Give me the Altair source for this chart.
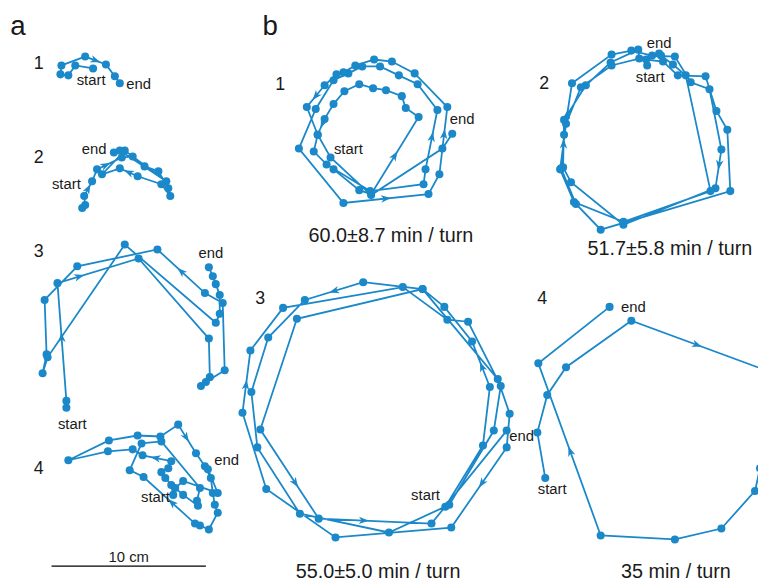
import math
import altair as alt
import pandas as pd

FONT = "Liberation Sans"
BLUE = "#1a88c9"

# ---------- trajectories (positions, in figure pixels) ----------
a1_x = [94, 76, 69, 61, 62, 86, 107, 116, 121]
a1_y = [66, 63, 73, 72, 63, 54, 62, 74, 81]

a2_x = [83, 86, 85, 93, 98, 123, 134, 146, 160, 170, 172, 163, 139, 121, 103, 126, 168, 121, 115]
a2_y = [207, 204, 195, 180, 168, 156, 155, 165, 170, 187, 195, 183, 175, 167, 173, 149, 180, 149, 151]

a3_x = [67, 67, 58, 140, 211, 212, 203, 208, 227, 225, 207, 159, 78, 45, 47, 43, 48, 126, 218, 222, 222, 218, 215, 211]
a3_y = [409, 402, 283, 258, 339, 378, 387, 383, 371, 303, 293, 249, 266, 300, 355, 374, 358, 244, 323, 314, 295, 284, 276, 267]

a4_x = [175, 173, 167, 163, 170, 173, 144, 134, 109, 69, 110, 139, 162, 180, 198, 207, 213, 215, 217, 220, 211, 202, 197,
        145, 131, 143, 163, 202, 199, 200, 185, 177, 185, 220, 210]
a4_y = [497, 487, 480, 474, 470, 463, 457, 451, 453, 462, 442, 437, 438, 426, 455, 468, 480, 495, 507, 515, 532, 528, 526,
        479, 472, 445, 443, 490, 503, 508, 497, 490, 483, 495, 471]

b1_x = [337, 363, 375, 423, 410, 406, 390, 377, 363, 348, 337, 328, 321, 317, 330, 374, 428, 430, 442, 422, 403, 384, 366,
        352, 337, 319, 302, 347, 433, 444, 452, 419, 396, 378, 359, 347, 340, 328, 310, 321, 334, 375, 447, 457]
b1_y = [168, 189, 193, 115, 106, 94, 88, 86, 82, 89, 102, 117, 133, 150, 163, 190, 183, 168, 108, 82, 73, 64, 64,
        71, 78, 107, 147, 202, 193, 173, 105, 71, 59, 57, 63, 70, 72, 83, 105, 133, 156, 194, 147, 132]

b2_x = [654, 653, 670, 685, 713, 724, 735, 738, 607, 582, 567, 570, 578, 618, 638, 659, 682, 698, 717, 729, 723, 630, 577,
        569, 570, 592, 617, 645, 646, 668, 680, 693, 718, 630, 580, 566, 572, 587, 618, 666]
b2_y = [63, 57, 59, 73, 74, 109, 128, 190, 229, 203, 167, 133, 81, 52, 48, 53, 54, 80, 87, 148, 187, 224, 181,
        166, 118, 83, 60, 47, 56, 53, 62, 73, 190, 221, 201, 168, 122, 85, 63, 51]

b3_x = [450, 488, 495, 477, 449, 427, 367, 308, 271, 254, 260, 303, 393, 454,
        499, 506, 473, 452, 407, 286, 253, 245, 269, 339, 456, 512,
        515, 503, 427, 300, 263, 322, 436, 512]
b3_y = [509, 447, 388, 342, 307, 289, 282, 300, 338, 393, 449, 516, 535, 507,
        432, 387, 322, 320, 287, 308, 351, 414, 491, 540, 530, 449,
        415, 380, 289, 319, 431, 521, 526, 432]

b4_x = [551, 543, 553, 572, 638, 771, 768, 763, 729, 682, 607, 544, 616]
b4_y = [480, 434, 396, 368, 321, 370, 470, 493, 531, 542, 538, 364, 307]

# arrowheads: (segment index, fraction along segment, reversed?)
a1_arrows = [(5, 0.5, 0)]
a2_arrows = [(2, 0.5, 0), (4, 0.35, 0), (12, 0.5, 0)]
a3_arrows = [(1, 0.54, 0), (2, 0.27, 0), (10, 0.5, 0)]
a4_arrows = [(13, 0.45, 0), (5, 0.55, 0), (22, 0.45, 0)]
b1_arrows = [(2, 0.5, 0), (11, 0.3, 0), (27, 0.5, 0), (17, 0.55, 0), (29, 0.6, 0), (37, 0.5, 0)]
b2_arrows = [(19, 0.4, 0), (11, 0.4, 0), (23, 0.5, 0)]
b3_arrows = [(6, 0.5, 0), (30, 0.6, 0), (31, 0.4, 0), (2, 0.45, 0), (24, 0.55, 1), (20, 0.55, 1)]
b4_arrows = [(4, 0.5, 0), (10, 0.49, 0)]

# ---------- texts ----------
label_text = ["start", "end", "end", "start", "end", "start", "end", "start",
              "start", "end", "end", "start", "start", "end", "end", "start"]
label_x = [92, 140, 95, 67, 213, 73, 229, 157, 352, 467, 666, 657, 430, 527, 640, 558]
label_y = [78, 82, 147, 183, 253, 425, 462, 499, 147, 117, 40, 75, 497, 438, 307, 491]

num_text = ["1", "2", "3", "4", "1", "2", "3", "4"]
num_x = [39, 39, 39, 39, 283, 550, 263, 548]
num_y = [62, 157, 252, 471, 83, 82, 299, 299]

letter_text = ["a", "b"]
letter_x = [18, 273]
letter_y = [24, 24]

caption_text = ["60.0\u00b18.7 min / turn", "51.7\u00b15.8 min / turn", "55.0\u00b15.0 min / turn", "35 min / turn"]
caption_x = [395, 677, 382, 683]
caption_y = [235, 249, 575, 575]

scalebar_text = ["10 cm"]
scalebar_x = [52]
scalebar_x2 = [208]
scalebar_y = [569]

# ---------- build tables ----------
panels = {
    "a1": (a1_x, a1_y, a1_arrows), "a2": (a2_x, a2_y, a2_arrows),
    "a3": (a3_x, a3_y, a3_arrows), "a4": (a4_x, a4_y, a4_arrows),
    "b1": (b1_x, b1_y, b1_arrows), "b2": (b2_x, b2_y, b2_arrows),
    "b3": (b3_x, b3_y, b3_arrows), "b4": (b4_x, b4_y, b4_arrows),
}
pts, arr = [], []
for name, (xs, ys, arrows) in panels.items():
    for i, (x, y) in enumerate(zip(xs, ys)):
        pts.append({"panel": name, "i": i, "x": x, "y": y})
    for seg, f, rev in arrows:
        x0, y0, x1, y1 = xs[seg], ys[seg], xs[seg + 1], ys[seg + 1]
        ang = math.degrees(math.atan2(y1 - y0, x1 - x0)) + (180 if rev else 0)
        arr.append({"x": x0 + f * (x1 - x0), "y": y0 + f * (y1 - y0), "ang": ang % 360})
pts = pd.DataFrame(pts)
arr = pd.DataFrame(arr)

texts = []
for t, x, y in zip(label_text, label_x, label_y):
    texts.append({"t": t, "x": x, "y": y, "fs": 15})
for t, x, y in zip(num_text, num_x, num_y):
    texts.append({"t": t, "x": x, "y": y, "fs": 18})
for t, x, y in zip(letter_text, letter_x, letter_y):
    texts.append({"t": t, "x": x, "y": y, "fs": 28})
for t, x, y in zip(caption_text, caption_x, caption_y):
    texts.append({"t": t, "x": x, "y": y, "fs": 20})
texts.append({"t": scalebar_text[0], "x": (scalebar_x[0] + scalebar_x2[0]) / 2, "y": scalebar_y[0] - 9, "fs": 15})
texts = pd.DataFrame(texts)

bar = pd.DataFrame({"x": scalebar_x, "x2": scalebar_x2, "y": scalebar_y})

X = alt.Scale(domain=[8, 766], nice=False, zero=False)
Y = alt.Scale(domain=[8, 585], nice=False, zero=False, reverse=True)

def xe(f="x"):
    return alt.X(f"{f}:Q", scale=X, axis=None)

def ye(f="y"):
    return alt.Y(f"{f}:Q", scale=Y, axis=None)

lines = alt.Chart(pts).mark_line(color=BLUE, strokeWidth=1.8, clip=True).encode(
    x=xe(), y=ye(), detail="panel:N", order="i:Q")
dots = alt.Chart(pts).mark_circle(color=BLUE, size=66, opacity=1, clip=True).encode(x=xe(), y=ye())
arrows = alt.Chart(arr).mark_point(
    shape="M 1 0 L -1 -0.75 L -0.45 0 L -1 0.75 Z", filled=True, color=BLUE, opacity=1, size=100, clip=True
).encode(x=xe(), y=ye(), angle=alt.Angle("ang:Q", scale=None))
txt = alt.Chart(texts).mark_text(font=FONT, color="#1a1a1a", align="center", baseline="middle").encode(
    x=xe(), y=ye(), text="t:N", size=alt.Size("fs:Q", scale=None))
rule = alt.Chart(bar).mark_rule(color="black", strokeWidth=1.5).encode(x=xe(), x2="x2:Q", y=ye())

chart = alt.layer(lines, arrows, dots, rule, txt).properties(
    width=758, height=577, padding=0, autosize=alt.AutoSizeParams(type="none")
).configure_view(stroke=None)

chart.save("out.html", embed_options={"renderer": "svg", "actions": False})
